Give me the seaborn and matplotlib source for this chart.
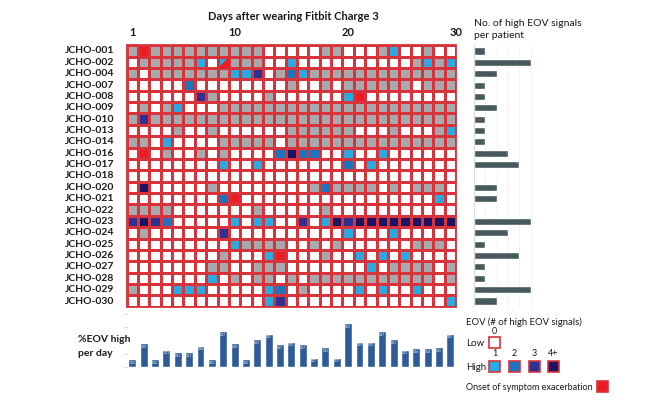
import numpy as np
import pandas as pd
import matplotlib
matplotlib.use("Agg")
import matplotlib.pyplot as plt
from matplotlib.colors import ListedColormap
from matplotlib.patches import Rectangle, Polygon
import seaborn as sns


# -------------------------
# Data
# -------------------------
patients = ["JCHO-001", "JCHO-002", "JCHO-004", "JCHO-007", "JCHO-008", "JCHO-009",
            "JCHO-010", "JCHO-013", "JCHO-014", "JCHO-016", "JCHO-017", "JCHO-018",
            "JCHO-020", "JCHO-021", "JCHO-022", "JCHO-023", "JCHO-024", "JCHO-025",
            "JCHO-026", "JCHO-027", "JCHO-028", "JCHO-029", "JCHO-030"]

# one string per patient, one char per day:
# . = low EOV, g = no data, 1-4 = number of high EOV signals (4 = 4+),
# r = onset of symptom exacerbation, x = 1 high signal + onset on same day
eov_rows = [
    "grgggggggggg.....gg...g1..g..",
    ".ggggg1.xggg..1..........g1g1",
    "g.ggggggg113.g21ggggggggggggg",
    ".....2........g..g.gggggg.ggg",
    "......3g....g......1r........",
    ".g.g1...ggggggggggggggggggggg",
    "g3ggggggggggggggggggggggggggg",
    "....g..g......gggggg...g...g1",
    "gg.1....ggggg.ggggggggggggggg",
    ".r.g..g.g....2422..1..1......",
    "........1..1.......2.1.......",
    ".............................",
    ".4.....g........g2gggg.g.ggg.",
    "........2r.................1.",
    "gggg.......g.....g...........",
    "3432.....1.11..3.143444444444",
    ".g......3..........1...1.....",
    ".........1gggg..g.g......ggg.",
    "........g...1r...g..1.1.1....",
    ".......gg..ggg.......1.gggg.g",
    ".......1.g.gg.g.ggggggggggg.g",
    "g...111.....12.g....1.1..1...",
    "............13..............1",
]

days = list(range(1, 30))
day_labels = {1: "1", 10: "10", 20: "20"}

pct_high_per_day = [0.06, 0.18, 0.06, 0.13, 0.11, 0.11, 0.16, 0.06, 0.27, 0.18,
                    0.06, 0.21, 0.25, 0.17, 0.19, 0.17, 0.07, 0.15, 0.07, 0.33,
                    0.19, 0.19, 0.27, 0.21, 0.13, 0.14, 0.14, 0.15, 0.25]

high_signals_per_patient = [1, 5, 2, 1, 1, 2, 1, 1, 1, 3, 4, 0, 2, 2, 0, 5, 3, 1, 4, 1, 1, 5, 2]

# colours
c_low = "white"
c_nodata = "#a7a9ac"
c_high = ["#29abe2", "#1c75bc", "#2e3192", "#1b1464"]
c_onset = "#ed1c24"
c_line = "#d8333b"
c_day_bar = "#2e5b98"
c_pat_bar = "#46595d"

code_values = {".": 0, "g": 1, "1": 2, "2": 3, "3": 4, "4": 5, "r": 6, "x": 2}

sns.set_theme(style="white")
plt.rcParams["font.family"] = ["Lato", "DejaVu Sans"]

W, H = 666, 400
fig = plt.figure(figsize=(W / 100, H / 100), dpi=100)


def px_axes(x0, y0, x1, y1):
    # axes from pixel box (top-left origin)
    return fig.add_axes([x0 / W, 1 - y1 / H, (x1 - x0) / W, (y1 - y0) / H])


grid_l, grid_r, grid_t, grid_b = 126.7, 456.0, 45.3, 306.7

# -------------------------
# Heatmap of EOV per day
# -------------------------
ax = px_axes(grid_l, grid_t, grid_r, grid_b)
df = pd.DataFrame([[code_values[c] for c in row] for row in eov_rows],
                  index=patients, columns=days)
cmap = ListedColormap([c_low, c_nodata] + c_high + [c_onset])
sns.heatmap(df, ax=ax, cmap=cmap, vmin=-0.5, vmax=6.5, cbar=False,
            linewidths=0.75, linecolor=c_line, xticklabels=False, yticklabels=True)

# split cell (high signal + onset on the same day)
for i, row in enumerate(eov_rows):
    for j, c in enumerate(row):
        if c == "x":
            ax.add_patch(Polygon([(j + 1, i), (j + 1, i + 1), (j, i + 1)],
                                 closed=True, facecolor=c_onset, edgecolor="none"))

ax.add_patch(Rectangle((0, 0), len(days), len(patients), fill=False,
                       edgecolor=c_line, lw=1.3, clip_on=False))
ax.set_xlabel("")
ax.set_ylabel("")
ax.tick_params(left=False, bottom=False, pad=3)
for lab in ax.get_yticklabels():
    lab.set_rotation(0)
    lab.set_fontsize(7.5)
    lab.set_fontweight("bold")
    lab.set_color("#1a1a1a")

for d, lab in day_labels.items():
    ax.text(d - 0.5, -1.1, lab, ha="center", va="center", fontsize=8,
            fontweight="bold", color="#1a1a1a")
ax.text(len(days), -1.1, "30", ha="center", va="center", fontsize=8,
        fontweight="bold", color="#1a1a1a")

fig.text(293 / W, 1 - 17 / H, "Days after wearing Fitbit Charge 3", ha="center",
         va="center", fontsize=8, fontweight="bold", color="#1a1a1a")

# -------------------------
# %EOV high per day
# -------------------------
axb = px_axes(grid_l, 313.7, grid_r, 367)
day_df = pd.DataFrame({"day": [str(d) for d in days], "pct": pct_high_per_day})
sns.barplot(data=day_df, x="day", y="pct", ax=axb, color=c_day_bar, width=0.7,
            saturation=1)
for i, v in enumerate(pct_high_per_day):
    axb.text(i, v - 0.012, f"{v:.2f}", ha="center", va="top", fontsize=2.2,
             color="white")
axb.set_xlim(-0.5, len(days) - 0.5)
axb.set_ylim(0, 0.4)
axb.set_yticks([0, 0.1, 0.2, 0.3, 0.4])
axb.set_yticklabels([])
axb.set_xticks([])
axb.set_xlabel("")
axb.set_ylabel("")
axb.tick_params(axis="y", left=True, length=2, width=0.6, color="#cccccc")
sns.despine(ax=axb, left=True, bottom=True)

fig.text(78 / W, 1 - 340 / H, "%EOV high", ha="left", va="center", fontsize=7.5,
         fontweight="bold", color="#1a1a1a")
fig.text(78 / W, 1 - 353 / H, "per day", ha="left", va="center", fontsize=7.5,
         fontweight="bold", color="#1a1a1a")

# -------------------------
# No. of high EOV signals per patient
# -------------------------
axr = px_axes(474, grid_t, 474 + 6 * 11.3, grid_b)
pat_df = pd.DataFrame({"patient": patients, "n": high_signals_per_patient})
for g in range(1, 6):
    axr.axvline(g, color="#f0f0f0", lw=0.6, zorder=0)
sns.barplot(data=pat_df, y="patient", x="n", orient="h", ax=axr, color=c_pat_bar,
            width=0.62, saturation=1)
for i, v in enumerate(high_signals_per_patient):
    if v > 0:
        axr.text(v - 0.12, i, "-", ha="center", va="center", fontsize=3,
                 color="#dddddd")
axr.axvline(0, color="#d9d9d9", lw=0.7)
axr.set_xlim(0, 6)
axr.set_xticks([])
axr.set_yticks([])
axr.set_xlabel("")
axr.set_ylabel("")
sns.despine(ax=axr, left=True, bottom=True)

fig.text(474 / W, 1 - 24 / H, "No. of high EOV signals", ha="left", va="center",
         fontsize=7.5, color="#1a1a1a")
fig.text(474 / W, 1 - 35 / H, "per patient", ha="left", va="center",
         fontsize=7.5, color="#1a1a1a")

# -------------------------
# Legend
# -------------------------
def legend_box(x, y, color):
    fig.patches.append(Rectangle((x / W, 1 - (y + 11) / H), 11 / W, 11 / H,
                                 transform=fig.transFigure, facecolor=color,
                                 edgecolor=c_line, lw=1.2))


fig.text(466 / W, 1 - 322 / H, "EOV (# of high EOV signals)", ha="left",
         va="center", fontsize=6.8, color="#1a1a1a")
fig.text(494.5 / W, 1 - 331 / H, "0", ha="center", va="center", fontsize=6.5,
         color="#1a1a1a")
fig.text(466 / W, 1 - 343 / H, "Low", ha="left", va="center", fontsize=7,
         color="#1a1a1a")
legend_box(489, 337, c_low)
fig.text(466 / W, 1 - 367 / H, "High", ha="left", va="center", fontsize=7,
         color="#1a1a1a")
for k, (lab, x) in enumerate(zip(["1", "2", "3", "4+"], [489, 509, 528.5, 548])):
    fig.text((x + 5.5) / W, 1 - 354 / H, lab, ha="center", va="center",
             fontsize=6.5, color="#1a1a1a")
    legend_box(x, 360.5, c_high[k])
fig.text(466 / W, 1 - 387 / H, "Onset of symptom exacerbation", ha="left",
         va="center", fontsize=6.5, color="#1a1a1a")
legend_box(597, 381, c_onset)

fig.savefig("out.png", dpi=100)
